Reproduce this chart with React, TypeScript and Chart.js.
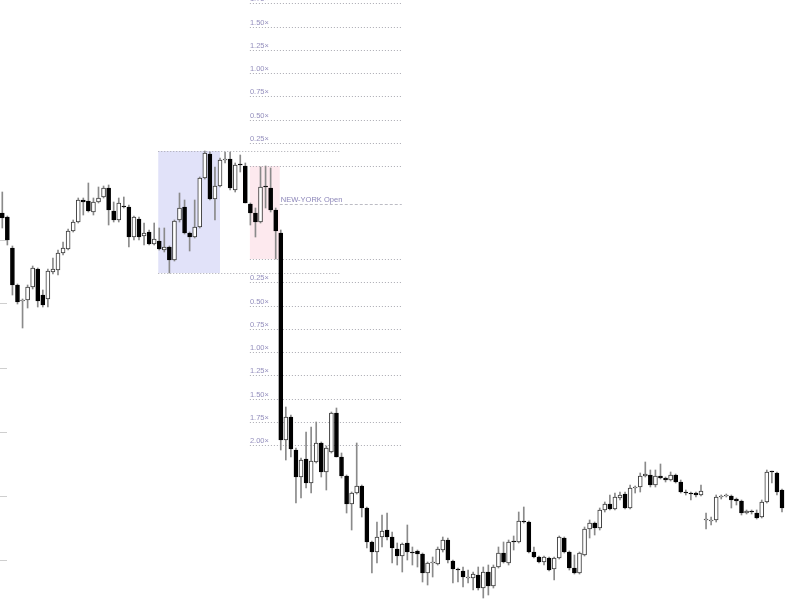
import React, { useEffect, useRef } from 'react';
import { Chart, registerables } from 'chart.js';

Chart.register(...registerables);

// ---- Candle data (price units), candle index 1..155 ----
const OPEN = [
  487, 483, 452, 415, 399, 400, 413, 431, 405, 401,
  428, 430, 447, 451, 469, 478, 500, 499, 488, 498,
  503, 512, 489, 480, 494, 493, 463, 481, 464, 468,
  456, 459, 450, 453, 440, 480, 493, 467, 463, 473,
  522, 546, 501, 514, 540, 541, 510, 536, 534, 496,
  487, 478, 514, 512, 490, 467, 260, 283, 250, 223,
  241, 217, 238, 257, 228, 248, 287, 243, 224, 196,
  207, 214, 192, 158, 148, 163, 170, 163, 151, 144,
  157, 148, 149, 146, 127, 137, 136, 150, 160, 139,
  131, 129, 122, 122, 125, 112, 128, 114, 133, 147,
  137, 159, 158, 179, 178, 148, 143, 138, 142, 131,
  142, 162, 148, 132, 127, 145, 171, 177, 172, 190,
  196, 191, 202, 206, 192, 212, 213, 224, 225, 215,
  224, 222, 220, 225, 218, 208, 207, 207, 205, 180,
  179, 180, 203, 204, 204, 201, 199, 187, 189, 187,
  183, 198, 229, 227, 210,
];
const CLOSE = [
  482, 460, 415, 398, 400, 413, 432, 399, 395, 429,
  431, 447, 452, 469, 478, 500, 498, 489, 498, 502,
  512, 490, 480, 497, 493, 463, 483, 463, 467, 456,
  461, 451, 453, 440, 479, 492, 467, 463, 473, 522,
  547, 501, 514, 540, 541, 512, 535, 535, 497, 487,
  478, 513, 513, 490, 469, 260, 283, 251, 223, 240,
  217, 239, 257, 228, 252, 287, 243, 224, 196, 207,
  214, 192, 158, 148, 163, 169, 163, 152, 144, 156,
  148, 147, 146, 127, 137, 138, 151, 160, 140, 131,
  130, 123, 123, 126, 112, 128, 114, 133, 147, 138,
  158, 158, 179, 178, 148, 143, 138, 143, 130, 142,
  163, 148, 132, 127, 147, 171, 177, 172, 190, 196,
  191, 203, 205, 192, 212, 213, 224, 226, 215, 224,
  222, 220, 225, 218, 208, 207, 206, 205, 209, 181,
  180, 203, 204, 205, 200, 199, 187, 189, 188, 182,
  198, 228, 228, 208, 192,
];
const HIGH = [
  508, 484, 454, 416, 401, 415, 434, 432, 410, 431,
  442, 450, 458, 471, 480, 502, 502, 517, 502, 513,
  514, 515, 498, 502, 503, 495, 484, 483, 477, 470,
  477, 472, 472, 454, 480, 507, 500, 468, 500, 523,
  549, 548, 533, 542, 548, 548, 537, 545, 537, 497,
  492, 533, 534, 532, 492, 470, 293, 285, 252, 242,
  268, 273, 278, 258, 254, 288, 292, 247, 225, 208,
  257, 215, 193, 159, 178, 185, 187, 168, 157, 157,
  175, 153, 150, 147, 138, 143, 153, 163, 162, 140,
  132, 133, 130, 128, 133, 133, 135, 135, 153, 158,
  160, 164, 188, 193, 179, 153, 144, 144, 143, 143,
  164, 163, 149, 145, 148, 173, 180, 178, 192, 198,
  205, 207, 208, 208, 215, 214, 227, 238, 230, 230,
  236, 223, 228, 226, 220, 210, 208, 208, 215, 187,
  183, 205, 205, 206, 205, 202, 200, 190, 190, 190,
  200, 230, 229, 228, 211,
];
const LOW = [
  472, 455, 405, 396, 372, 392, 411, 393, 393, 393,
  426, 425, 445, 450, 468, 477, 485, 488, 485, 497,
  502, 475, 478, 478, 492, 453, 460, 460, 455, 455,
  455, 450, 448, 427, 439, 478, 466, 449, 462, 472,
  521, 500, 480, 513, 537, 510, 508, 528, 497, 475,
  463, 477, 492, 488, 441, 250, 240, 243, 197, 202,
  212, 207, 237, 223, 210, 247, 243, 222, 187, 170,
  206, 183, 152, 127, 137, 153, 160, 137, 135, 128,
  140, 135, 133, 118, 115, 123, 135, 148, 137, 117,
  118, 113, 117, 110, 110, 102, 105, 112, 132, 137,
  135, 150, 157, 177, 147, 142, 137, 135, 129, 120,
  141, 147, 130, 126, 126, 144, 162, 165, 170, 188,
  190, 190, 200, 191, 191, 207, 208, 223, 213, 213,
  221, 218, 219, 217, 207, 205, 200, 203, 204, 171,
  175, 178, 201, 203, 192, 195, 185, 186, 186, 181,
  182, 197, 217, 205, 188,
];

// y-axis tick values (labels are outside the visible frame)
const Y_TICKS = [140, 204, 268, 332, 396, 460];

// Sessions: candle index ranges used for high/low, and box spans (candle index units)
const ASIA_CANDLES = [32, 44];
const ASIA_BOX = [31.8, 44.0];
const ASIA_LINE_END = 67.7;
const NY_CANDLES = [50, 55];
const NY_BOX = [49.9, 55.8];
const NY_LINE_END = 79.9;
const NY_OPEN_PRICE = 496;
const NY_OPEN_LABEL = 'NEW-YORK Open';
const LEVEL_STEPS = [0.25, 0.5, 0.75, 1.0, 1.25, 1.5, 1.75, 2.0];

const rangeOf = (span: number[]) => {
  let hi = -Infinity;
  let lo = Infinity;
  for (let i = span[0]; i <= span[1]; i++) {
    hi = Math.max(hi, HIGH[i - 1]);
    lo = Math.min(lo, LOW[i - 1]);
  }
  return { hi, lo };
};

const sessionPlugin = {
  id: 'sessions',
  beforeDatasetsDraw(chart: any) {
    const { ctx } = chart;
    const x = chart.scales.x;
    const y = chart.scales.y;
    const px = (v: number) => x.getPixelForValue(v);
    const py = (v: number) => y.getPixelForValue(v);
    const asia = rangeOf(ASIA_CANDLES);
    const ny = rangeOf(NY_CANDLES);

    ctx.save();
    ctx.fillStyle = '#e1e2f9';
    ctx.fillRect(px(ASIA_BOX[0]), py(asia.hi), px(ASIA_BOX[1]) - px(ASIA_BOX[0]), py(asia.lo) - py(asia.hi));
    ctx.fillStyle = '#fde9ee';
    ctx.fillRect(px(NY_BOX[0]), py(ny.hi), px(NY_BOX[1]) - px(NY_BOX[0]), py(ny.lo) - py(ny.hi));

    const hline = (x0: number, x1: number, v: number, dash: number[], color: string) => {
      const yy = Math.round(py(v)) + 0.5;
      ctx.beginPath();
      ctx.setLineDash(dash);
      ctx.strokeStyle = color;
      ctx.lineWidth = 1;
      ctx.moveTo(px(x0), yy);
      ctx.lineTo(px(x1), yy);
      ctx.stroke();
    };
    const dotted = [1, 2];
    const lineColor = '#a9a9b0';
    hline(ASIA_BOX[0], ASIA_LINE_END, asia.hi, dotted, lineColor);
    hline(ASIA_BOX[0], ASIA_LINE_END, asia.lo, dotted, lineColor);
    hline(NY_BOX[0], NY_LINE_END, ny.hi, dotted, lineColor);
    hline(NY_BOX[0], NY_LINE_END, ny.lo, dotted, lineColor);

    const r = ny.hi - ny.lo;
    ctx.font = '7.5px "Liberation Sans", Arial, sans-serif';
    ctx.fillStyle = '#948fbd';
    ctx.textAlign = 'left';
    ctx.textBaseline = 'alphabetic';
    LEVEL_STEPS.forEach((k) => {
      const up = ny.hi + k * r;
      const dn = ny.lo - k * r;
      const label = k.toFixed(2) + '\u00d7';
      [up, dn].forEach((v) => {
        hline(NY_BOX[0], NY_LINE_END, v, dotted, lineColor);
        ctx.setLineDash([]);
        ctx.fillText(label, px(NY_BOX[0]), Math.round(py(v)) - 2);
      });
    });

    hline(NY_BOX[1], NY_LINE_END, NY_OPEN_PRICE, [3, 2], '#bcbcc4');
    ctx.setLineDash([]);
    ctx.fillStyle = '#8b85b8';
    ctx.font = '7.5px "Liberation Sans", Arial, sans-serif';
    ctx.fillText(NY_OPEN_LABEL, px(NY_BOX[1]) + 1, Math.round(py(NY_OPEN_PRICE)) - 2);
    ctx.restore();
  },
};

export default function App() {
  const ref = useRef<HTMLCanvasElement | null>(null);

  useEffect(() => {
    if (!ref.current) return;
    const bull = OPEN.map((o, i) => CLOSE[i] >= o);
    const chart = new Chart(ref.current, {
      type: 'bar',
      data: {
        datasets: [
          {
            label: 'body',
            data: OPEN.map((o, i) => ({ x: i + 1, y: [o, CLOSE[i]] })) as any,
            backgroundColor: bull.map((b) => (b ? '#ffffff' : '#000000')),
            borderColor: bull.map((b) => (b ? '#3a3a3a' : '#000000')),
            borderWidth: 1,
            borderSkipped: false,
            barThickness: 4,
            grouped: false,
            order: 0,
            clip: false,
          } as any,
          {
            label: 'wick',
            data: HIGH.map((h, i) => ({ x: i + 1, y: [LOW[i], h] })) as any,
            backgroundColor: '#8a8a8a',
            borderWidth: 0,
            barThickness: 1,
            grouped: false,
            order: 1,
            clip: false,
          } as any,
        ],
      },
      options: {
        animation: false,
        responsive: false,
        maintainAspectRatio: false,
        layout: { padding: 0 },
        plugins: { legend: { display: false }, tooltip: { enabled: false } },
        scales: {
          x: { type: 'linear', min: 1.928, max: 155.79, display: false, offset: false },
          y: {
            type: 'linear',
            min: 100,
            max: 700,
            position: 'left',
            border: { display: false },
            grid: { drawOnChartArea: false, drawTicks: true, tickLength: 7, color: '#cfcfcf' },
            ticks: { display: false },
            afterBuildTicks: (axis: any) => {
              axis.ticks = Y_TICKS.map((v) => ({ value: v }));
            },
          },
        },
      } as any,
      plugins: [sessionPlugin],
    });
    return () => chart.destroy();
  }, []);

  return (
    <div style={{ position: 'absolute', left: 0, top: 0, width: 786, height: 600, background: '#fff' }}>
      <canvas ref={ref} width={786} height={600} style={{ display: 'block' }} />
    </div>
  );
}
